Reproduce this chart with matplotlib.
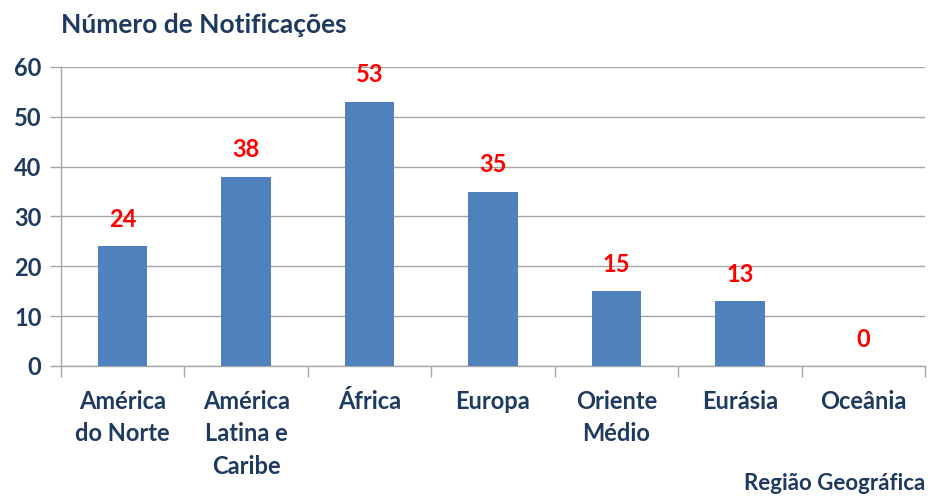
import matplotlib.pyplot as plt
import numpy as np

# Chart data
regioes = ['América\ndo Norte', 'América\nLatina e\nCaribe', 'África', 'Europa',
           'Oriente\nMédio', 'Eurásia', 'Oceânia']
notificacoes = [24, 38, 53, 35, 15, 13, 0]
y_ticks = [0, 10, 20, 30, 40, 50, 60]

navy = '#1F3A60'
bar_color = '#4F81BD'
grid_color = '#A6A6A6'

plt.rcParams['font.family'] = ['Lato', 'DejaVu Sans']

fig = plt.figure(figsize=(9.3, 4.97), dpi=100)
ax = fig.add_axes([0.0656, 0.2636, 0.929, 0.6016])

x = np.arange(len(regioes))
ax.bar(x, notificacoes, width=0.4, color=bar_color, zorder=3)

# Value labels in red above each bar
for xi, v in zip(x, notificacoes):
    ax.text(xi, v + 5.4, str(v), ha='center', va='center', color='#FF0000',
            fontsize=17, fontweight='bold')

ax.set_xlim(-0.5, len(regioes) - 0.5)
ax.set_ylim(0, 60)
ax.set_yticks(y_ticks)
ax.set_yticklabels([str(t) for t in y_ticks], fontsize=17, fontweight='bold', color=navy)
ax.yaxis.grid(True, color=grid_color, linewidth=1, zorder=0)

# x ticks at category boundaries, labels at centers
ax.set_xticks(np.arange(-0.5, len(regioes) + 0.5, 1.0))
ax.set_xticklabels([])
ax.set_xticks(x, minor=True)
ax.set_xticklabels(regioes, minor=True, fontsize=17, fontweight='bold', color=navy,
                   linespacing=1.5, va='top')
ax.tick_params(axis='x', which='minor', length=0, pad=17)
ax.tick_params(axis='x', which='major', length=8, color=grid_color, width=1)
ax.tick_params(axis='y', length=8, color=grid_color, width=1, pad=6)

for side in ['top', 'right']:
    ax.spines[side].set_visible(False)
for side in ['left', 'bottom']:
    ax.spines[side].set_color(grid_color)
    ax.spines[side].set_linewidth(1)

fig.text(0.066, 0.95, 'Número de Notificações', fontsize=19, fontweight='bold',
         color=navy, ha='left', va='center')
fig.text(0.995, 0.028, 'Região Geográfica', fontsize=16, fontweight='bold',
         color=navy, ha='right', va='center')

fig.savefig('out.png', dpi=100)
